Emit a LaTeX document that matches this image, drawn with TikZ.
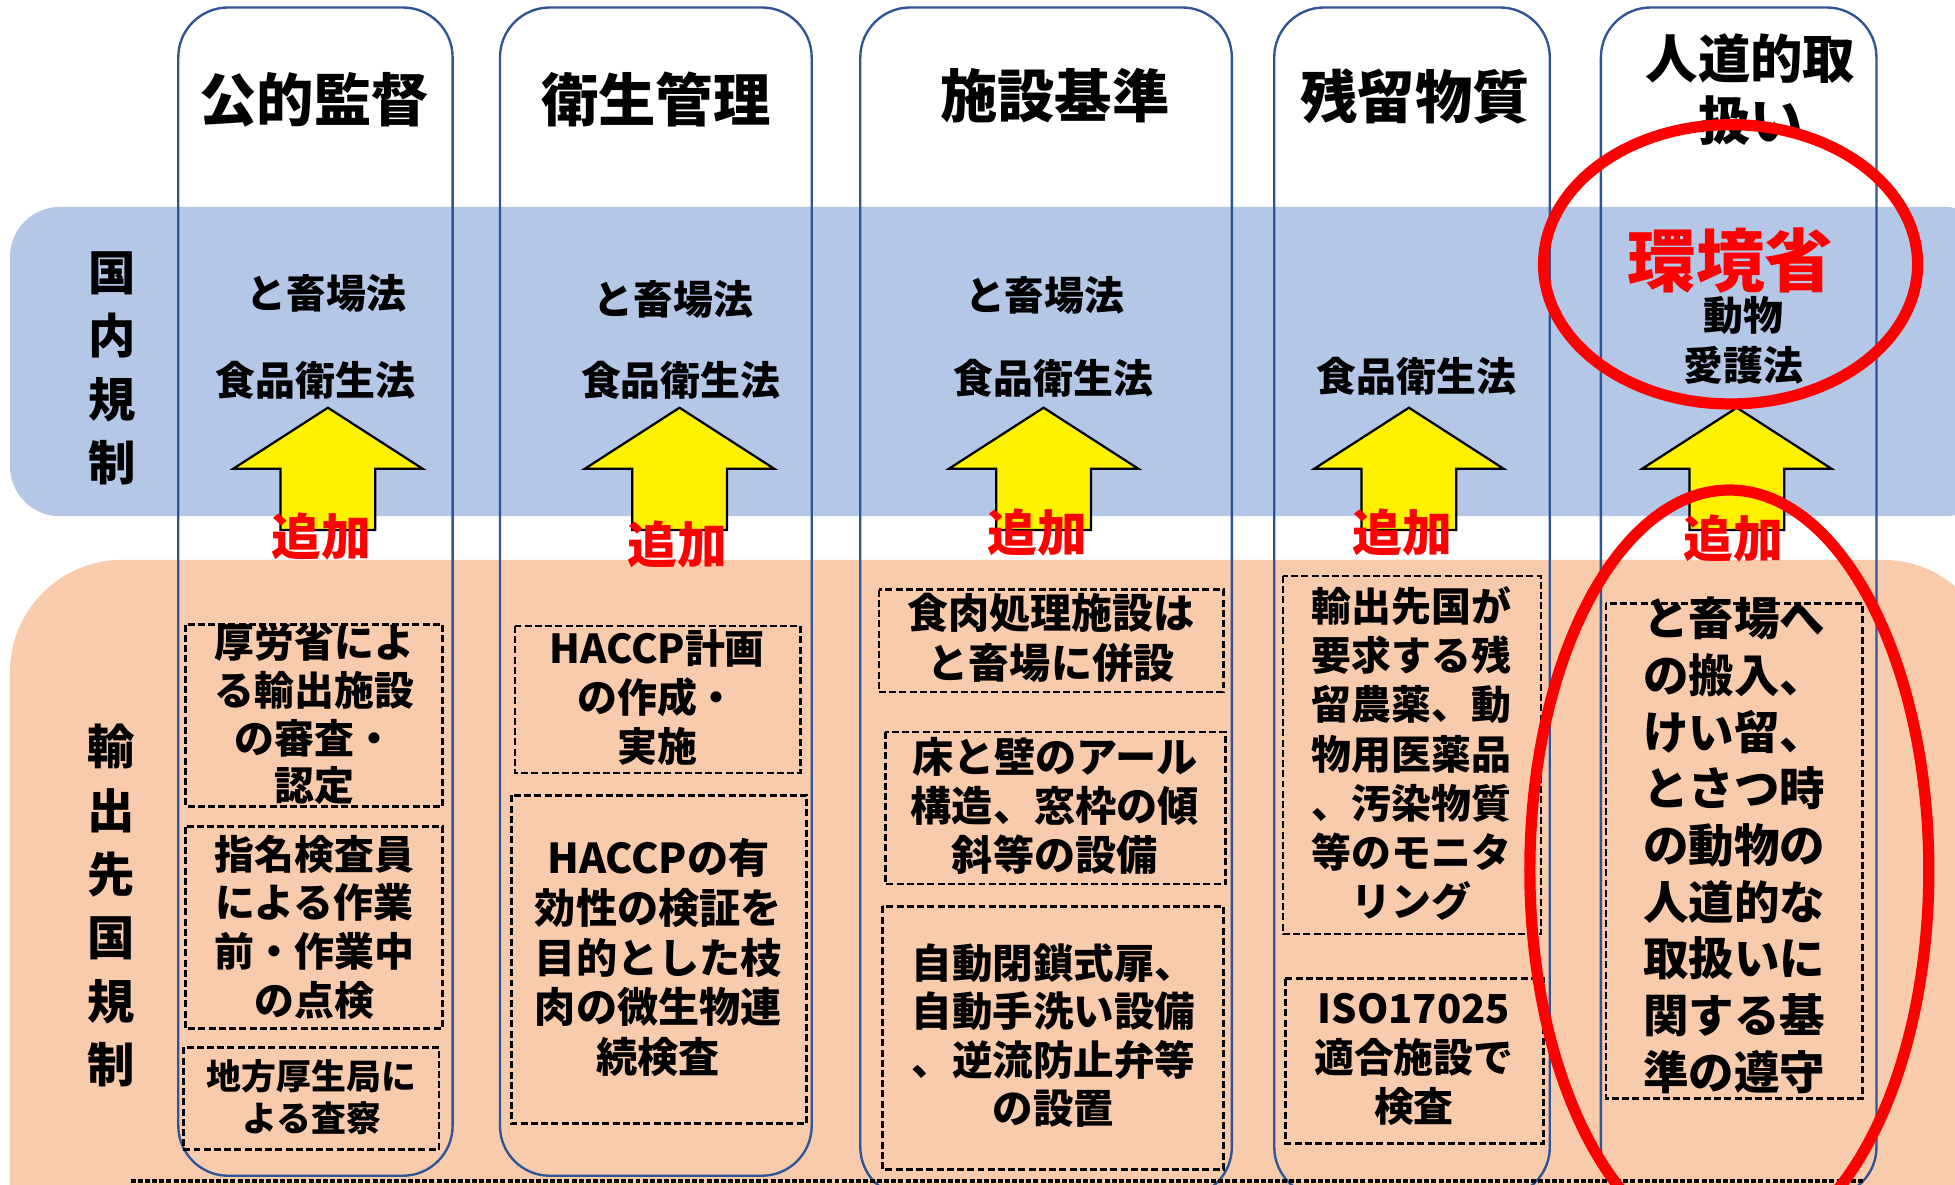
\documentclass[tikz,border=0pt]{standalone}
\usepackage{fontspec}
\setmainfont{Noto Sans CJK JP}
\definecolor{bandblue}{RGB}{180,199,231}
\definecolor{bandorange}{RGB}{248,203,173}
\definecolor{colblue}{RGB}{47,85,151}
\tikzset{
  colframe/.style={draw=colblue, line width=1.9pt, rounded corners=40pt},
  dbox/.style={draw=black, line width=2.2pt, dash pattern=on 5.6pt off 2.6pt},
  bodytxt/.style={align=center, inner sep=0pt, font=\bfseries\fontsize{32}{39.5}\selectfont},
  headtxt/.style={align=center, inner sep=0pt, font=\bfseries\fontsize{46}{50}\selectfont},
  lawtxt/.style={align=center, inner sep=0pt, font=\bfseries\fontsize{32}{40}\selectfont},
  addtxt/.style={inner sep=0pt, text=red, font=\bfseries\fontsize{40}{40}\selectfont},
  sidetxt/.style={align=center, inner sep=0pt, font=\bfseries\fontsize{38}{51}\selectfont},
  uparrow/.style={fill=yellow, draw=black, line width=1.8pt, line join=miter},
  redring/.style={draw=red, line width=9pt}
}
\begin{document}
\begin{tikzpicture}[x=1pt,y=-1pt]
\useasboundingbox (0,0) rectangle (1568,950);
\begin{scope}
\clip (0,0) rectangle (1568,950);
% bands
\fill[bandblue, rounded corners=40pt] (8,166) rectangle (1600,414);
\fill[bandorange, rounded corners=90pt] (8,449) rectangle (1600,1060);
% columns
\draw[colframe] (143,6) rectangle (363,943);
\draw[colframe] (401,6) rectangle (651,943);
\draw[colframe] (690,6) rectangle (988,960);
\draw[colframe] (1022,6) rectangle (1243,960);
\draw[colframe] (1284,6) rectangle (1505,960);
% bottom dashed line
\draw[line width=3pt, dash pattern=on 4pt off 1.7pt] (105,947) -- (1495,947);
% arrows
\foreach \cx in {263,545,837,1130,1393}{
  \filldraw[uparrow] (\cx,327) -- (\cx+76,376) -- (\cx+38,376) -- (\cx+38,425)
     -- (\cx-38,425) -- (\cx-38,376) -- (\cx-76,376) -- cycle;
}
% dashed boxes
\draw[dbox] (149,501) rectangle (355,647);
\draw[dbox] (149,663) rectangle (355,825);
\draw[dbox] (147,840) rectangle (352,922);
\draw[dbox] (413,502) rectangle (642,620);
\draw[dbox] (410,638) rectangle (647,901);
\draw[dbox] (705,473) rectangle (981,555);
\draw[dbox] (710,587) rectangle (983,709);
\draw[dbox] (708,727) rectangle (981,938);
\draw[dbox] (1029,462) rectangle (1236,749);
\draw[dbox] (1031,785) rectangle (1238,917);
\draw[dbox] (1288,484) rectangle (1494,881);
\end{scope}
% headings
\node[headtxt] (h1) at (252,80) {公的監督};
\node[headtxt] (h2) at (526,80) {衛生管理};
\node[headtxt] (h3) at (846,77) {施設基準};
\node[headtxt] (h4) at (1135,77) {残留物質};
\node[headtxt, font=\bfseries\fontsize{42}{50}\selectfont] (h5) at (1404,72) {人道的取\\扱い};
% side labels
\node[sidetxt] (dom) at (90,295.5) {国\\内\\規\\制};
\node[sidetxt] (exp) at (89,726.5) {輸\\出\\先\\国\\規\\制};
% laws
\node[lawtxt] (l1a) at (262,235) {と畜場法};
\node[lawtxt] (l1b) at (253,305) {食品衛生法};
\node[lawtxt] (l2a) at (540,240) {と畜場法};
\node[lawtxt] (l2b) at (546,305) {食品衛生法};
\node[lawtxt] (l3a) at (838,237) {と畜場法};
\node[lawtxt] (l3b) at (845,303) {食品衛生法};
\node[lawtxt] (l4b) at (1136,302) {食品衛生法};
\node[inner sep=0pt, text=red, font=\bfseries\fontsize{55}{55}\selectfont] (env) at (1388,209) {環境省};
\node[lawtxt] (l5a) at (1398,253) {動物};
\node[lawtxt] (l5b) at (1398,293) {愛護法};
% add labels
\node[addtxt] (a1) at (258,430) {追加};
\node[addtxt] (a2) at (543,437) {追加};
\node[addtxt] (a3) at (832,427) {追加};
\node[addtxt] (a4) at (1125,427) {追加};
\node[addtxt] (a5) at (1390,432) {追加};
% box texts
\node[bodytxt, font=\bfseries\fontsize{32}{38.3}\selectfont] (t1a) at (252,572.75) {厚労省によ\\る輸出施設\\の審査・\\認定};
\node[bodytxt, font=\bfseries\fontsize{32}{39}\selectfont] (t1b) at (252,743.5) {指名検査員\\による作業\\前・作業中\\の点検};
\node[bodytxt, font=\bfseries\fontsize{28}{34}\selectfont] (t1c) at (250,880) {地方厚生局に\\よる査察};
\node[bodytxt] (t2a) at (527,559.5) {HACCP計画\\の作成・\\実施};
\node[bodytxt, font=\bfseries\fontsize{33}{40}\selectfont] (t2b) at (528,768) {HACCPの有\\効性の検証を\\目的とした枝\\肉の微生物連\\続検査};
\node[bodytxt, font=\bfseries\fontsize{33}{40}\selectfont] (t3a) at (843,512) {食肉処理施設は\\と畜場に併設};
\node[bodytxt, font=\bfseries\fontsize{33}{39.5}\selectfont] (t3b) at (846,646.5) {床と壁のアール\\構造、窓枠の傾\\斜等の設備};
\node[bodytxt, font=\bfseries\fontsize{32.5}{39}\selectfont] (t3c) at (845,830.5) {自動閉鎖式扉、\\自動手洗い設備\\、逆流防止弁等\\の設置};
\node[bodytxt] (t4a) at (1132,604.5) {輸出先国が\\要求する残\\留農薬、動\\物用医薬品\\、汚染物質\\等のモニタ\\リング};
\node[bodytxt] (t4c) at (1134,849.5) {ISO17025\\適合施設で\\検査};
\node[bodytxt, font=\bfseries\fontsize{36.5}{45.5}\selectfont] (t5a) at (1391,678) {と畜場へ\\の搬入、\\けい留、\\とさつ時\\の動物の\\人道的な\\取扱いに\\関する基\\準の遵守};
% red rings
\begin{scope}
\clip (0,0) rectangle (1568,950);
\draw[redring] (1388,212) ellipse [x radius=150, y radius=112];
\draw[redring] (1387,698) ellipse [x radius=160, y radius=305];
\end{scope}
\end{tikzpicture}
\end{document}
